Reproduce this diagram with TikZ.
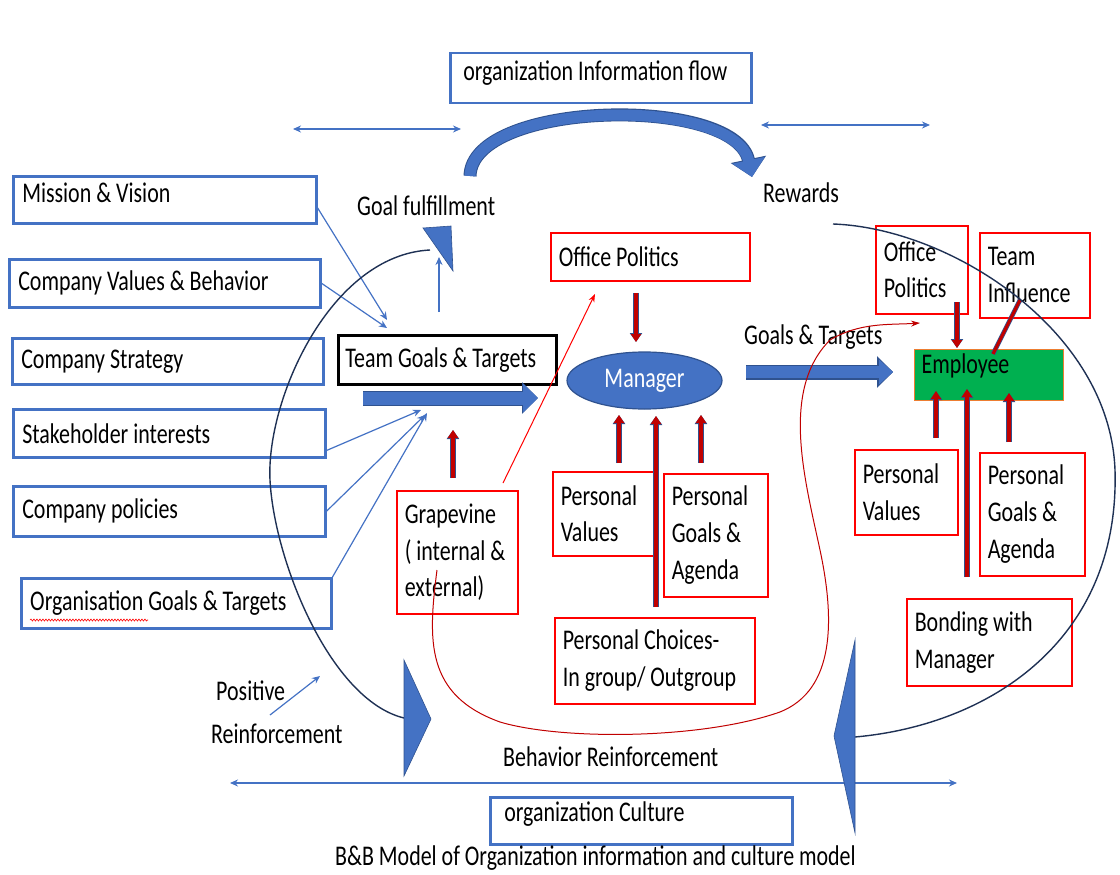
\documentclass[tikz,border=0pt]{standalone}
\usepackage{fontspec}
\setmainfont{Carlito}[FakeStretch=0.77]
\usetikzlibrary{arrows.meta}
\usetikzlibrary{shapes.geometric}
\usetikzlibrary{decorations.pathmorphing}

\definecolor{boxblue}{HTML}{4472C4}
\definecolor{edgeblue}{HTML}{2F528F}
\definecolor{arcnavy}{HTML}{1F3154}
\definecolor{boxred}{HTML}{FF0000}
\definecolor{arrowred}{HTML}{C00000}
\definecolor{empgreen}{HTML}{00B050}
\definecolor{emporange}{HTML}{ED7D31}

\begin{document}
\begin{tikzpicture}[x = 1pt, y = -1pt, font = \fontsize{28.5}{36.7}\selectfont,
  box/.style = {anchor = north west, align = flush left, inner xsep = 9pt, inner ysep = 0pt},
  blue box/.style = {box, draw = boxblue, line width = 2.5pt},
  red box/.style = {box, draw = boxred, line width = 1.5pt, inner xsep = 8pt},
  plain text/.style = {anchor = west, inner sep = 0pt},
  thin arrow/.style = {draw = boxblue, line width = 1.2pt, -{Stealth[length = 8pt, width = 7pt]}},
  both arrow/.style = {draw = boxblue, line width = 1.2pt, {Stealth[length = 8pt, width = 7pt]}-{Stealth[length = 8pt, width = 7pt]}},
  red arrow/.style = {draw = arrowred, line width = 4pt, -{Triangle[length = 8pt, width = 10pt]},
    preaction = {draw = edgeblue, line width = 6pt, -{Triangle[length = 9pt, width = 12pt]}}},
  block arrow/.style = {draw = boxblue, line width = 13pt, -{Triangle[length = 15pt, width = 28pt]},
    preaction = {draw = edgeblue, line width = 15pt, -{Triangle[length = 16pt, width = 31pt]}}},
  big arc/.style = {draw = arcnavy, line width = 1.4pt},
  arc head/.style = {fill = boxblue, draw = edgeblue, line width = 0.6pt}]

\useasboundingbox (0, 0) rectangle (1120, 875);

% outer boxes
\node[blue box, text width = 275pt, minimum height = 50pt, text depth = 16pt, inner xsep = 13pt] (infoflow) at (449, 52) {organization Information flow};
\node[blue box, text width = 274pt, minimum height = 47pt, text depth = 18pt, inner xsep = 14pt] (culture) at (489, 796) {organization Culture};

\node[blue box, text width = 285pt, minimum height = 47pt, text depth = 15pt] (mission) at (12, 175) {Mission \& Vision};
\node[blue box, text width = 293pt, minimum height = 48pt] (values) at (8, 258) {Company Values \& Behavior};
\node[blue box, text width = 293pt, minimum height = 46pt] (strategy) at (11, 337) {Company Strategy};
\node[blue box, text width = 294pt, minimum height = 48pt] (stake) at (12, 408) {Stakeholder interests};
\node[blue box, text width = 294pt, minimum height = 50pt] (policies) at (12, 485) {Company policies};
\node[blue box, text width = 292pt, minimum height = 50pt] (orggoals) at (20, 577) {Organisation Goals \& Targets};
\draw[boxred, line width = 0.6pt, decorate, decoration = {snake, amplitude = 1pt, segment length = 3pt}] (30, 620) -- (148, 620);

\node[box, draw = black, line width = 2.8pt, inner xsep = 7pt, text width = 204pt, minimum height = 49pt] (team) at (337, 334) {Team Goals \& Targets};

% manager side
\node[ellipse, fill = boxblue, draw = edgeblue, line width = 1.2pt, minimum width = 155pt, minimum height = 57pt, inner sep = 0pt, text = white] (manager) at (644.5, 380.5) {Manager};
\node[red box, text width = 183pt, minimum height = 48pt] (officepol) at (550, 232) {Office Politics};
\node[red box, text width = 105pt, minimum height = 123pt] (grape) at (396, 490) {Grapevine\\( internal \&\\external)};
\node[red box, text width = 85pt, minimum height = 84pt] (pvalues) at (552, 471) {Personal\\Values};
\node[red box, text width = 88pt, minimum height = 123pt] (pgoals) at (663, 473) {Personal\\Goals \&\\Agenda};
\node[red box, text width = 184pt, minimum height = 86pt] (pchoice) at (554, 617) {Personal Choices-\\In group/ Outgroup};

% employee side
\node[box, fill = empgreen, draw = emporange, line width = 1.2pt, inner xsep = 7pt, text width = 135pt, minimum height = 51pt, text depth = 23pt] (employee) at (914, 349) {Employee};
\node[red box, text width = 76pt, minimum height = 88pt] (officepol2) at (875, 225) {Office\\Politics};
\node[red box, text width = 94pt, minimum height = 85pt] (teaminf) at (979, 232) {Team\\Influence};
\node[red box, text width = 87pt, minimum height = 85pt] (pvalues2) at (854, 449) {Personal\\Values};
\node[red box, text width = 89pt, minimum height = 123pt] (pgoals2) at (979, 452) {Personal\\Goals \&\\Agenda};
\node[red box, text width = 149pt, minimum height = 87pt] (bonding) at (906, 598) {Bonding with\\Manager};

% free labels
\node[plain text] (goalful) at (357, 206) {Goal fulfillment};
\node[plain text] (rewards) at (763, 193) {Rewards};
\node[plain text] (goalstargets) at (744, 337) {Goals \& Targets};
\node[plain text, align = flush left] (positive) at (211, 712) {\hspace*{5pt}Positive\\[6pt]Reinforcement};
\node[plain text] (behavior) at (503, 757) {Behavior Reinforcement};
\node[inner sep = 0pt] (caption) at (595.5, 858) {B\&B Model of Organization information and culture model};

% end points
\coordinate (flowL1) at (293, 129); \coordinate (flowL2) at (461, 129);
\coordinate (flowR1) at (761, 125); \coordinate (flowR2) at (930, 125);
\coordinate (cultL) at (230, 783); \coordinate (cultR) at (957, 783);
\coordinate (curveA) at (470, 176); \coordinate (curveB) at (752, 177);
\coordinate (teamA) at (363, 398); \coordinate (teamB) at (538, 398);
\coordinate (mgrA) at (746, 372); \coordinate (mgrB) at (893, 372);
\coordinate (tgIn1) at (387, 320); \coordinate (tgIn2) at (387, 328);
\coordinate (tgIn3) at (421, 410); \coordinate (tgIn4) at (425, 415); \coordinate (tgIn5) at (427, 413);
\coordinate (goalA) at (439, 312); \coordinate (goalB) at (439, 257);
\coordinate (posA) at (270, 715); \coordinate (posB) at (320, 676);
\coordinate (gvA) at (503, 483); \coordinate (gvB) at (595, 294);
\coordinate (tiA) at (1020, 300); \coordinate (tiB) at (993, 354);
\coordinate (grapeA) at (453, 478); \coordinate (grapeB) at (453, 430);
\coordinate (opA) at (636, 293); \coordinate (opB) at (636, 342);
\coordinate (pvA) at (619, 463); \coordinate (pvB) at (619, 415);
\coordinate (pcA) at (656, 607); \coordinate (pcB) at (656, 416);
\coordinate (pgA) at (701, 463); \coordinate (pgB) at (701, 415);
\coordinate (op2A) at (957, 302); \coordinate (op2B) at (957, 348);
\coordinate (pv2A) at (936, 438); \coordinate (pv2B) at (936, 391);
\coordinate (bondA) at (967, 577); \coordinate (bondB) at (967, 389);
\coordinate (pg2A) at (1009, 442); \coordinate (pg2B) at (1009, 393);

\draw[both arrow] (flowL1) -- (flowL2);
\draw[both arrow] (flowR1) -- (flowR2);
\draw[both arrow] (cultL) -- (cultR);
\draw[draw = boxblue, line width = 11pt, -{Triangle[length = 17pt, width = 32pt]},
  preaction = {draw = edgeblue, line width = 13pt, -{Triangle[length = 18pt, width = 35pt]}}]
  (curveA) .. controls (472, 100) and (735, 95) .. (curveB);
\draw[block arrow] (teamA) -- (teamB);
\draw[block arrow, line width = 12pt, -{Triangle[length = 14pt, width = 24pt]},
  preaction = {draw = edgeblue, line width = 14pt, -{Triangle[length = 15pt, width = 27pt]}}] (mgrA) -- (mgrB);

\draw[thin arrow] ([yshift = -8pt]mission.east) -- (tgIn1);
\draw[thin arrow] (values.east) -- (tgIn2);
\draw[thin arrow] ([yshift = 8pt]stake.south east) -- (tgIn3);
\draw[thin arrow] (policies.east) -- (tgIn4);
\draw[thin arrow] (orggoals.north east) -- (tgIn5);
\draw[thin arrow] (goalA) -- (goalB);
\draw[thin arrow] (posA) -- (posB);

% pulls on manager and employee
\foreach \pull in {grape, op, pv, pc, pg, op2, pv2, bond, pg2}
  \draw[red arrow] (\pull A) -- (\pull B);
\draw[draw = arrowred, line width = 3pt, preaction = {draw = edgeblue, line width = 4.5pt}] (tiA) -- (tiB);
\draw[boxred, line width = 1pt, -{Stealth[length = 8pt, width = 6pt]}] (gvA) -- (gvB);

% reinforcement loops
\draw[big arc] (430, 250) .. controls (330, 255) and (266, 400) .. (270, 480) .. controls (274, 560) and (330, 700) .. (404, 718);
\path[arc head] (423, 228) -- (451, 226) -- (453, 271) -- cycle;
\path[arc head] (404, 660) -- (431, 719) -- (404, 776) -- cycle;
\draw[big arc] (833, 224) .. controls (950, 228) and (1110, 330) .. (1115, 470) .. controls (1120, 640) and (990, 725) .. (855, 737);
\path[arc head] (855, 640) -- (834, 736) -- (855, 833) -- cycle;
\draw[arrowred, line width = 1pt, -{Stealth[length = 9pt, width = 6pt]}] (437, 570) .. controls (428, 640) and (425, 695) .. (500, 722)
  .. controls (560, 740) and (700, 740) .. (780, 712) .. controls (835, 690) and (835, 620) .. (820, 550)
  .. controls (805, 480) and (780, 390) .. (830, 340) .. controls (860, 322) and (890, 325) .. (920, 323);
\end{tikzpicture}
\end{document}
